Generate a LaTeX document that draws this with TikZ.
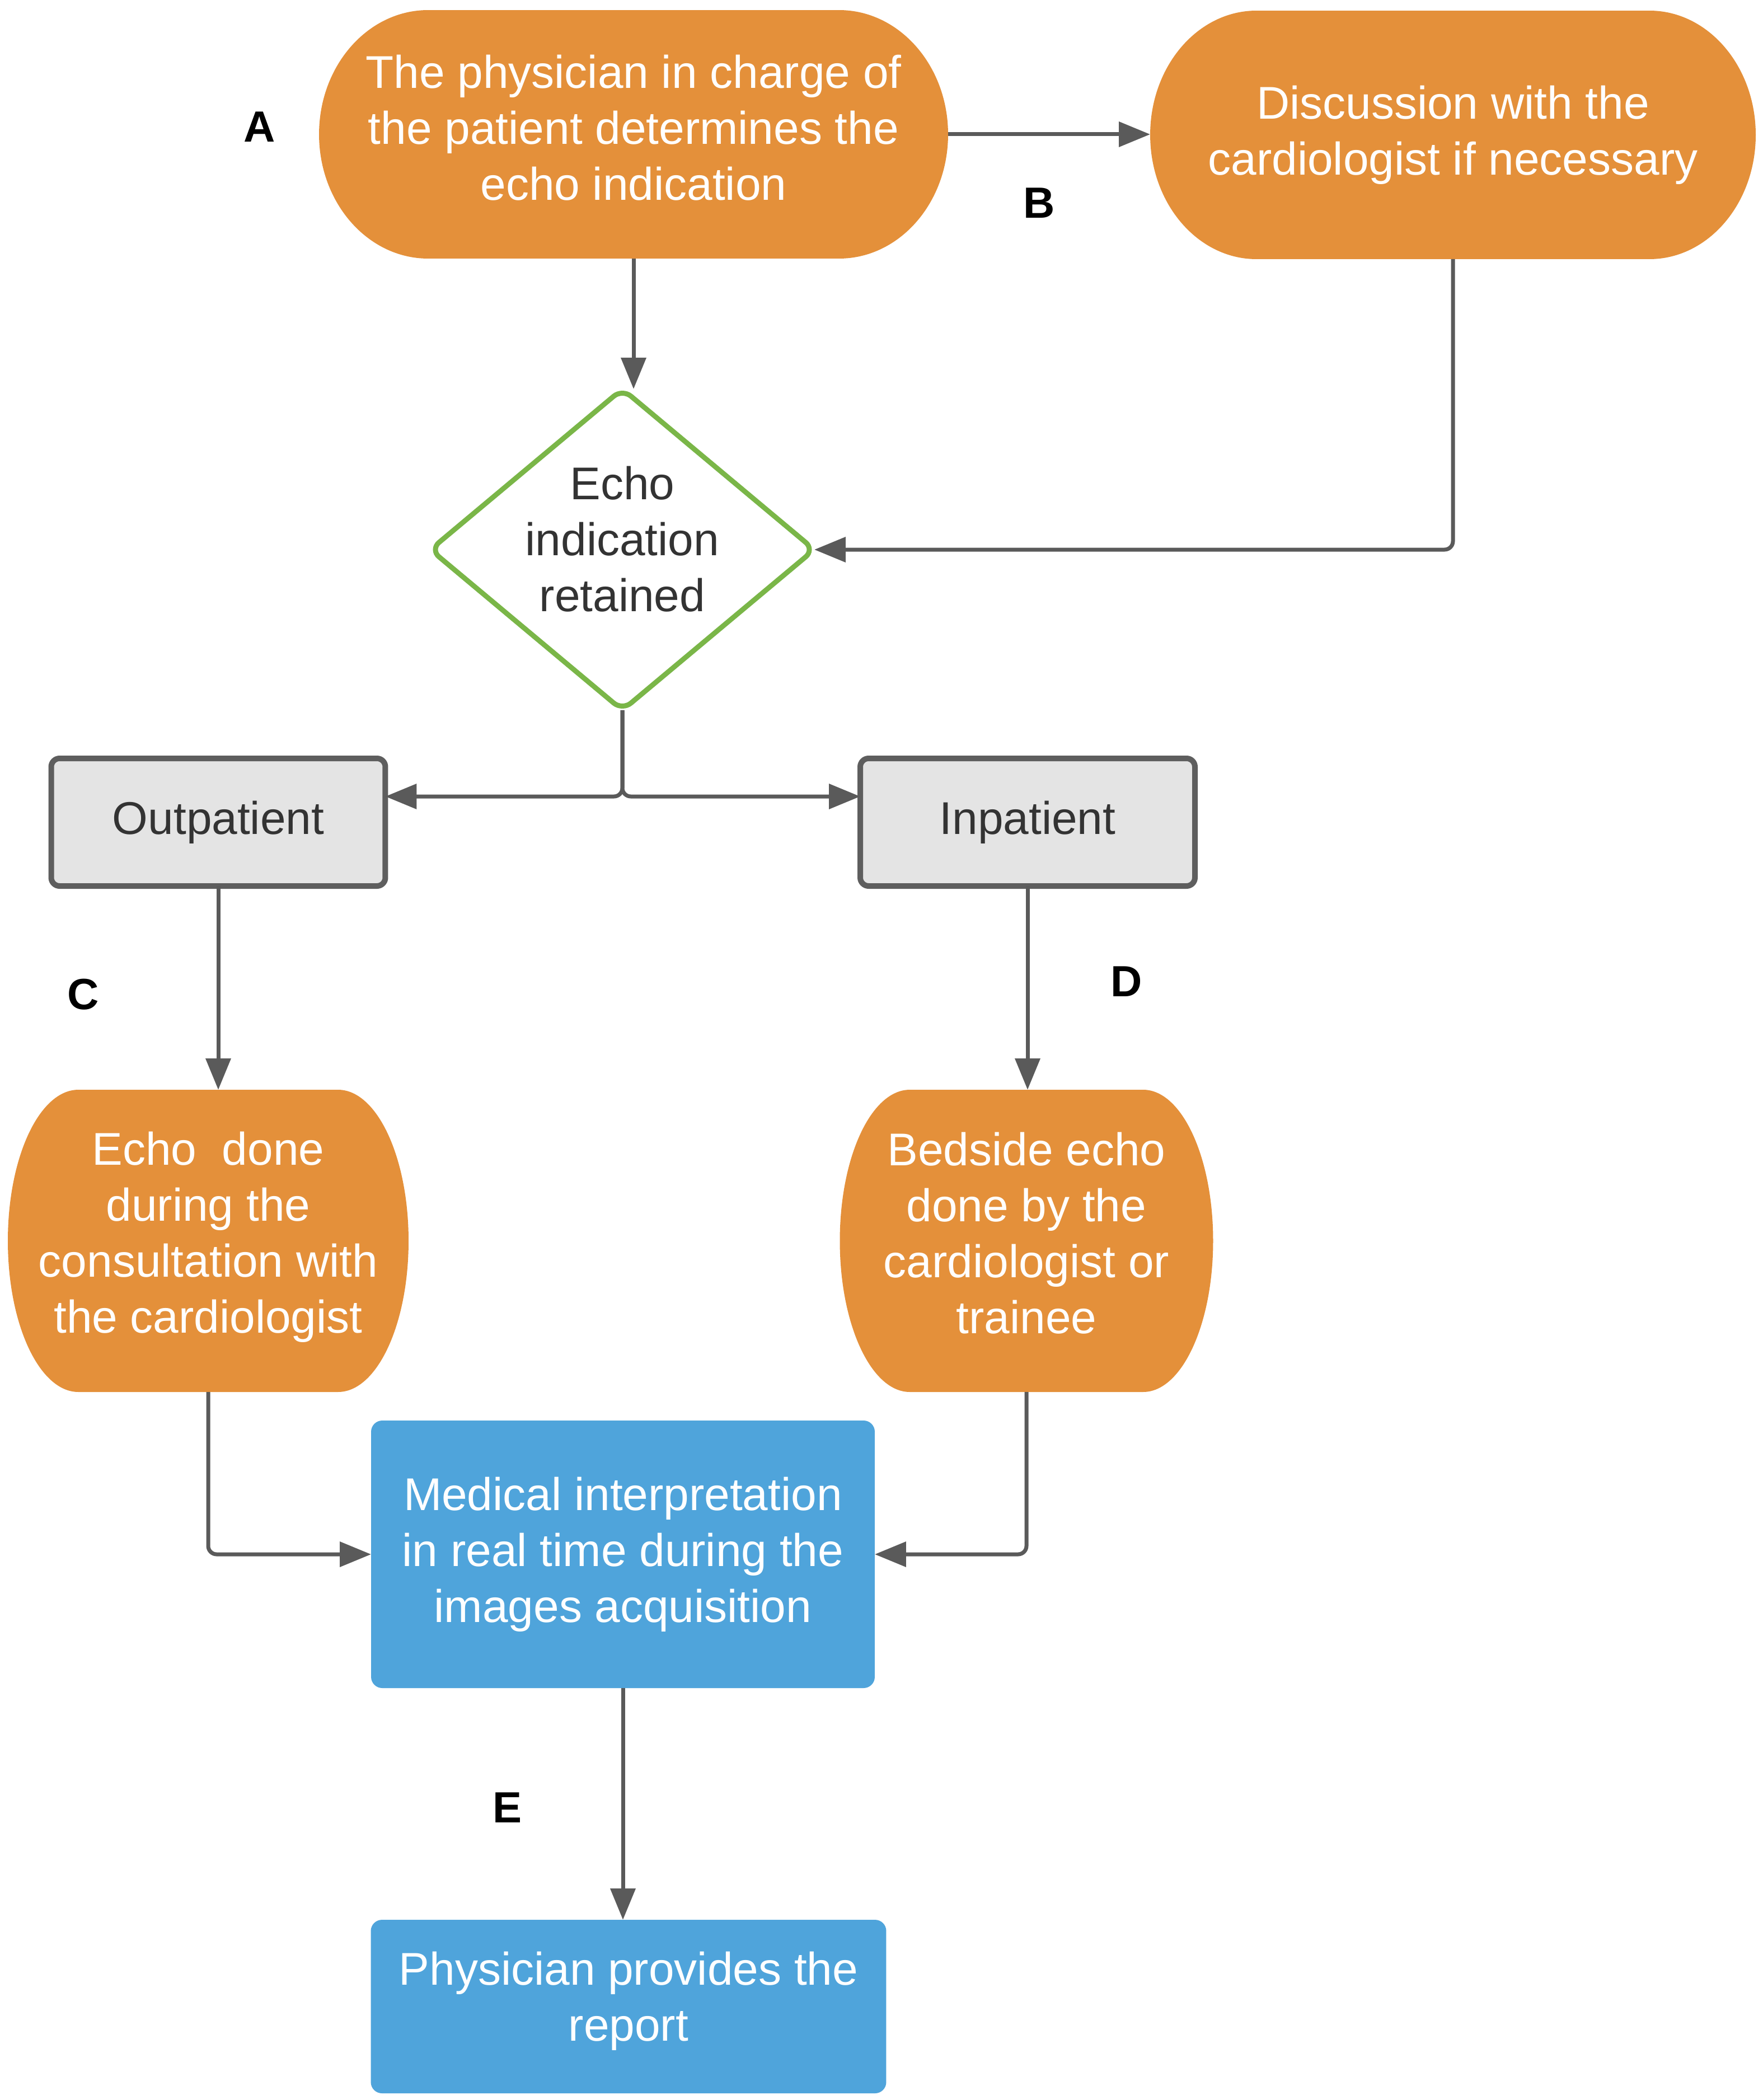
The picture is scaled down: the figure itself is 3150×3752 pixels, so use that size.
\documentclass[tikz,border=0pt]{standalone}
\usepackage{fontspec}
\setmainfont{Liberation Sans}
\usetikzlibrary{arrows.meta,calc}
\definecolor{orng}{HTML}{E4903A}
\definecolor{blu}{HTML}{4FA4DB}
\definecolor{gryfill}{HTML}{E4E4E4}
\definecolor{grydraw}{HTML}{5E5E5E}
\definecolor{grn}{HTML}{7AB648}
\definecolor{lnk}{HTML}{5A5A5A}
\definecolor{txtdark}{HTML}{333333}
\pgfdeclarelayer{bg}
\pgfsetlayers{bg,main}
\newcommand\orngshape[3]{\fill[orng] ([xshift=#2]#1.north west) -- ([xshift=-#2]#1.north east) arc[start angle=90,end angle=-90,x radius=#2,y radius=#3] -- ([xshift=#2]#1.south west) arc[start angle=270,end angle=90,x radius=#2,y radius=#3] -- cycle;}
\begin{document}
\begin{tikzpicture}[x=0.1pt,y=-0.1pt,
  box/.style={inner sep=0pt, outer sep=0pt, align=center, font=\fontsize{8.2pt}{10pt}\selectfont},
  shp/.style={inner sep=0pt, outer sep=0pt},
  wtxt/.style={box, text=white},
  dtxt/.style={box, text=txtdark},
  arr/.style={draw=lnk, line width=0.7pt, -{Triangle[length=5.6pt,width=4.4pt]}, rounded corners=1.5pt},
  lbl/.style={font=\fontsize{7.8pt}{9pt}\selectfont\bfseries, text=black, inner sep=0pt}]
\useasboundingbox (0,0) rectangle (3150,3752);
\begin{pgfonlayer}{bg}
\fill[white] (0,0) rectangle (3150,3752);
\end{pgfonlayer}
% nodes
\node[shp, minimum width=112.4pt, minimum height=44.4pt, label={[wtxt, yshift=1.2pt]center:{The physician in charge of\\the patient determines the\\echo indication}}] (A) at (1132,240) {};
\node[wtxt, minimum width=108.2pt, minimum height=44.4pt] (Dis) at (2596,241) {Discussion with the\\cardiologist if necessary};
\node[shp, minimum width=68.6pt, minimum height=57.4pt, label={[dtxt, yshift=1.9pt]center:{Echo\\indication\\retained}}] (dia) at (1112,982) {};
\node[dtxt, draw=grydraw, fill=gryfill, line width=1pt, rounded corners=1.5pt, minimum width=59.7pt, minimum height=22.8pt] (out) at (390,1469) {Outpatient};
\node[dtxt, draw=grydraw, fill=gryfill, line width=1pt, rounded corners=1.5pt, minimum width=59.8pt, minimum height=22.8pt] (in) at (1836,1469) {Inpatient};
\node[shp, minimum width=71.6pt, minimum height=54pt, label={[wtxt, yshift=0.7pt]center:{Echo\ \ done\\during the\\consultation with\\the cardiologist}}] (echo) at (372,2217) {};
\node[shp, minimum width=66.7pt, minimum height=54pt, label={[wtxt, yshift=1.4pt]center:{Bedside echo\\done by the\\cardiologist or\\trainee}}] (bed) at (1834,2217) {};
\node[wtxt, fill=blu, rounded corners=2pt, minimum width=90pt, minimum height=47.8pt] (med) at (1113,2777) {Medical interpretation\\in real time during the\\images acquisition};
\node[shp, fill=blu, rounded corners=2pt, minimum width=92.1pt, minimum height=31pt, label={[wtxt, yshift=1pt]center:{Physician provides the\\report}}] (phy) at (1123,3585) {};
% shapes behind
\begin{pgfonlayer}{bg}
\orngshape{A}{19.5pt}{22.2pt}
\orngshape{Dis}{19pt}{22.2pt}
\orngshape{echo}{12.6pt}{27pt}
\orngshape{bed}{12.5pt}{27pt}
\end{pgfonlayer}
\draw[grn, line width=0.9pt, rounded corners=2pt] ($(dia.north)!0.5!(dia.east)$) -- (dia.east) -- (dia.south) -- (dia.west) -- (dia.north) -- cycle;
% connectors
\coordinate (j) at (1112,1423);
\draw[arr] (A.east) -- (A.east -| Dis.west);
\draw[arr] (A.south) -- (A.south |- dia.north);
\draw[arr] (Dis.south) |- (dia.east);
\draw[arr] (dia.south) |- (j -| out.east);
\draw[arr] (dia.south) |- (j -| in.west);
\draw[arr] (out.south) -- (out.south |- echo.north);
\draw[arr] (in.south) -- (in.south |- bed.north);
\draw[arr] (echo.south) |- (med.west);
\draw[arr] (bed.south) |- (med.east);
\draw[arr] (med.south) -- (med.south |- phy.north);
% labels
\node[lbl] (la) at (464,227) {A};
\node[lbl] (lb) at (1857,363) {B};
\node[lbl] (lc) at (149,1777) {C};
\node[lbl] (ld) at (2013,1754) {D};
\node[lbl] (le) at (906,3230) {E};
\end{tikzpicture}
\end{document}
